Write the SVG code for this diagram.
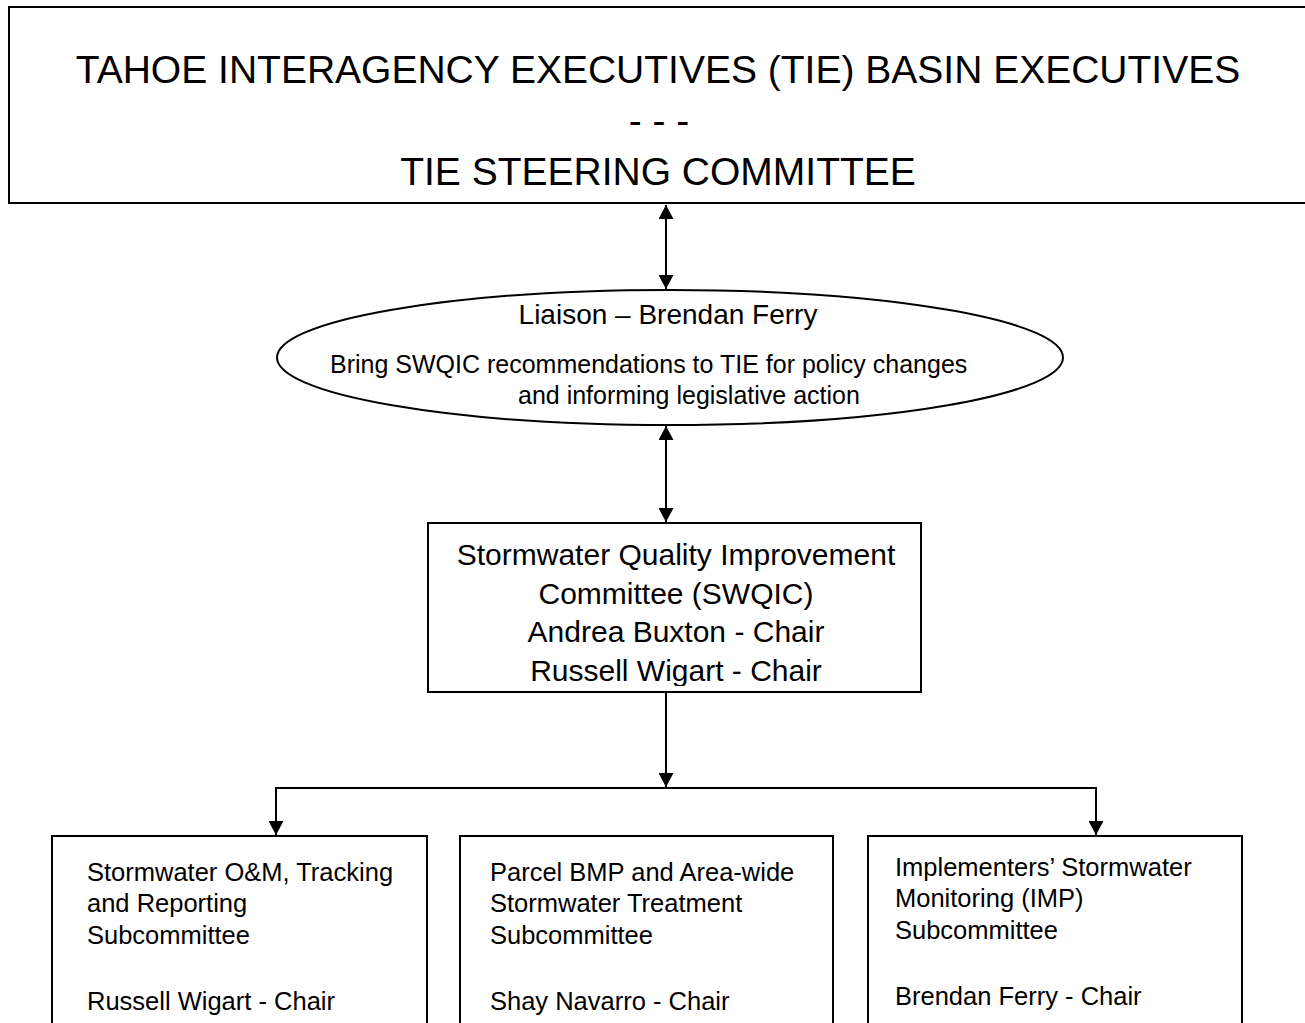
<svg xmlns="http://www.w3.org/2000/svg" width="1305" height="1023" viewBox="0 0 1305 1023">
  <style>
    text { font-family: "Liberation Sans", Arial, sans-serif; fill: #000; }
    .box { fill: #fff; stroke: #000; stroke-width: 2; }
    .conn { fill: none; stroke: #000; stroke-width: 2; }
    .big { font-size: 39px; }
    .mid { font-size: 30px; }
    .sub { font-size: 25.5px; }
  </style>
  <defs>
    <marker id="ah" markerUnits="userSpaceOnUse" markerWidth="15" markerHeight="15" refX="14" refY="7.5" orient="auto-start-reverse" viewBox="0 0 15 15">
      <path d="M0,0 L14,7.5 L0,15 z" fill="#000"/>
    </marker>
    <clipPath id="swqicClip">
      <rect x="428" y="523" width="493" height="163"/>
    </clipPath>
  </defs>

  <g id="tie">
    <rect class="box" x="9" y="7" width="1310" height="196"/>
    <text class="big" x="658" y="83" text-anchor="middle">TAHOE INTERAGENCY EXECUTIVES (TIE) BASIN EXECUTIVES</text>
    <text class="big" x="659" y="134" text-anchor="middle">- - -</text>
    <text class="big" x="658" y="185" text-anchor="middle">TIE STEERING COMMITTEE</text>
  </g>

  <g id="liaison">
    <ellipse class="box" cx="670" cy="357.5" rx="393" ry="67.5"/>
    <text x="668" y="324" font-size="28" text-anchor="middle">Liaison – Brendan Ferry</text>
    <text x="330" y="373" font-size="25">Bring SWQIC recommendations to TIE for policy changes</text>
    <text x="518" y="404" font-size="25">and informing legislative action</text>
  </g>

  <g id="swqic">
    <rect class="box" x="428" y="523" width="493" height="169"/>
    <g clip-path="url(#swqicClip)">
      <text class="mid" x="676" y="565" text-anchor="middle">Stormwater Quality Improvement</text>
      <text class="mid" x="676" y="604" text-anchor="middle">Committee (SWQIC)</text>
      <text class="mid" x="676" y="642" text-anchor="middle">Andrea Buxton - Chair</text>
      <text class="mid" x="676" y="681" text-anchor="middle">Russell Wigart - Chair</text>
    </g>
  </g>

  <g id="sub-om">
    <rect class="box" x="52" y="836" width="375" height="200"/>
    <text class="sub" x="87" y="881">Stormwater O&amp;M, Tracking</text>
    <text class="sub" x="87" y="912">and Reporting</text>
    <text class="sub" x="87" y="944">Subcommittee</text>
    <text class="sub" x="87" y="1010">Russell Wigart - Chair</text>
  </g>

  <g id="sub-bmp">
    <rect class="box" x="460" y="836" width="373" height="200"/>
    <text class="sub" x="490" y="881">Parcel BMP and Area-wide</text>
    <text class="sub" x="490" y="912">Stormwater Treatment</text>
    <text class="sub" x="490" y="944">Subcommittee</text>
    <text class="sub" x="490" y="1010">Shay Navarro - Chair</text>
  </g>

  <g id="sub-imp">
    <rect class="box" x="868" y="836" width="374" height="200"/>
    <text class="sub" x="895" y="876">Implementers’ Stormwater</text>
    <text class="sub" x="895" y="907">Monitoring (IMP)</text>
    <text class="sub" x="895" y="939">Subcommittee</text>
    <text class="sub" x="895" y="1005">Brendan Ferry - Chair</text>
  </g>

  <g id="connectors">
    <line class="conn" x1="666" y1="205" x2="666" y2="289" marker-start="url(#ah)" marker-end="url(#ah)"/>
    <line class="conn" x1="666" y1="426" x2="666" y2="522" marker-start="url(#ah)" marker-end="url(#ah)"/>
    <line class="conn" x1="666" y1="692" x2="666" y2="787" marker-end="url(#ah)"/>
    <path class="conn" d="M276,835 V788 H1096 V835" marker-start="url(#ah)" marker-end="url(#ah)"/>
  </g>
</svg>
